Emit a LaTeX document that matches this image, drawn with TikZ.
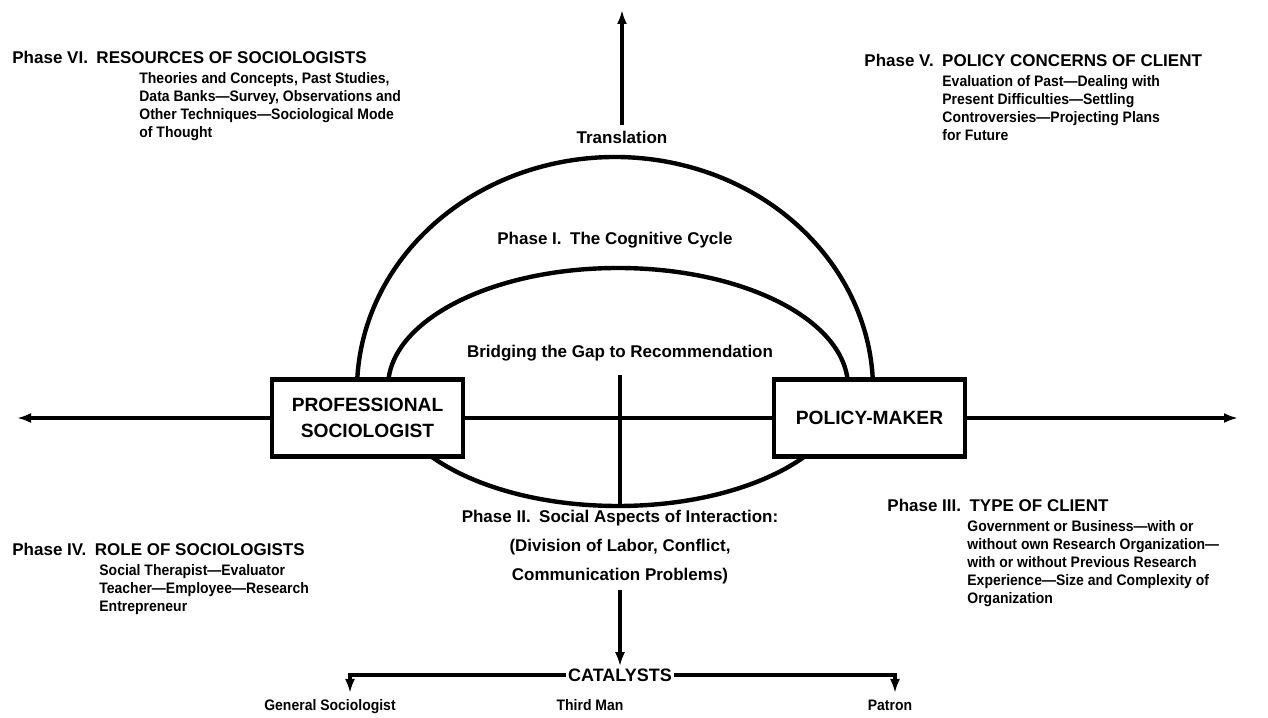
\documentclass[tikz,border=0pt]{standalone}
\usepackage{fontspec}
\setmainfont{Liberation Sans}[FakeStretch=0.92]
\newfontfamily\widefont{Liberation Sans}
\usetikzlibrary{arrows.meta}

\tikzset{
  ln/.style={line width=2.2pt},
  arr/.style={line width=2.2pt,-{Latex[length=7pt,width=5pt]}},
  actor/.style={draw,line width=2.4pt,fill=white,minimum width=95.5pt,minimum height=38.5pt,
    align=center,font=\widefont\bfseries\fontsize{9.6}{13}\selectfont},
  lbl/.style={inner sep=1pt,font=\bfseries\fontsize{7.6}{9}\selectfont},
  mid/.style={inner sep=1pt,font=\widefont\bfseries\fontsize{8.5}{10}\selectfont},
  phasehead/.style={mid,anchor=base west},
  phasebody/.style={lbl,anchor=north west,align=left}
}

\begin{document}
\begin{tikzpicture}[x=0.5pt,y=0.5pt]
  \useasboundingbox (0,0) rectangle (1268,717);
  \draw[ln] (615,327) ++(-10:258 and 233) arc[start angle=-10,end angle=190,x radius=258,y radius=233];
  \draw[ln] (618,330) ellipse[x radius=230,y radius=119];
  \node[actor] (prof) at (367.5,299) {PROFESSIONAL\\SOCIOLOGIST};
  \node[actor] (policy) at (869.5,299) {POLICY-MAKER};
  \coordinate (leftend) at (17,299);
  \coordinate (rightend) at (1238,299);
  \draw[arr] (prof.west) -- (leftend);
  \draw[arr] (policy.east) -- (rightend);
  \draw[ln] (prof.east) -- (policy.west);
  \node[mid] (transl) at (622,580) {Translation};
  \coordinate (toptip) at (622,707);
  \draw[arr] (transl.north) ++(0,3) -- (toptip);
  \node[mid] (cognitive) at (615,477) {Phase I.\enspace The Cognitive Cycle};
  \node[mid] (bridge) at (620,364) {Bridging the Gap to Recommendation};
  \coordinate (gaptop) at (620,342);
  \coordinate (gapbot) at (620,212);
  \draw[ln] (gaptop) -- (gapbot);
  \node[mid,align=center,font=\widefont\bfseries\fontsize{8.5}{14.5}\selectfont] (social) at (620,170)
    {Phase II.\enspace Social Aspects of Interaction:\\(Division of Labor, Conflict,\\Communication Problems)};
  \node[mid,font=\widefont\bfseries\fontsize{9}{10}\selectfont] (catalysts) at (620,42) {CATALYSTS};
  \draw[arr] (social.south) ++(0,-4) -- (catalysts.north);
  \node[lbl,anchor=base] (general) at (330,7) {General Sociologist};
  \node[lbl,anchor=base] (thirdman) at (590,7) {Third Man};
  \node[lbl,anchor=base] (patron) at (890,7) {Patron};
  \coordinate (gsend) at (350,24);
  \coordinate (patend) at (895,24);
  \draw[arr] (catalysts.west) -| (gsend);
  \draw[arr] (catalysts.east) -| (patend);
  \node[phasehead] (sixhead) at (10,653) {Phase VI.\enspace RESOURCES OF SOCIOLOGISTS};
  \node[phasebody] (sixbody) at (137,647) {Theories and Concepts, Past Studies,\\Data Banks---Survey, Observations and\\Other Techniques---Sociological Mode\\of Thought};
  \node[phasehead] (fivehead) at (862,650) {Phase V.\enspace POLICY CONCERNS OF CLIENT};
  \node[phasebody] (fivebody) at (940,644) {Evaluation of Past---Dealing with\\Present Difficulties---Settling\\Controversies---Projecting Plans\\for Future};
  \node[phasehead] (fourhead) at (10,161) {Phase IV.\enspace ROLE OF SOCIOLOGISTS};
  \node[phasebody] (fourbody) at (97,155) {Social Therapist---Evaluator\\Teacher---Employee---Research\\Entrepreneur};
  \node[phasehead] (threehead) at (885,205) {Phase III.\enspace TYPE OF CLIENT};
  \node[phasebody] (threebody) at (965,199) {Government or Business---with or\\without own Research Organization---\\with or without Previous Research\\Experience---Size and Complexity of\\Organization};
\end{tikzpicture}
\end{document}
